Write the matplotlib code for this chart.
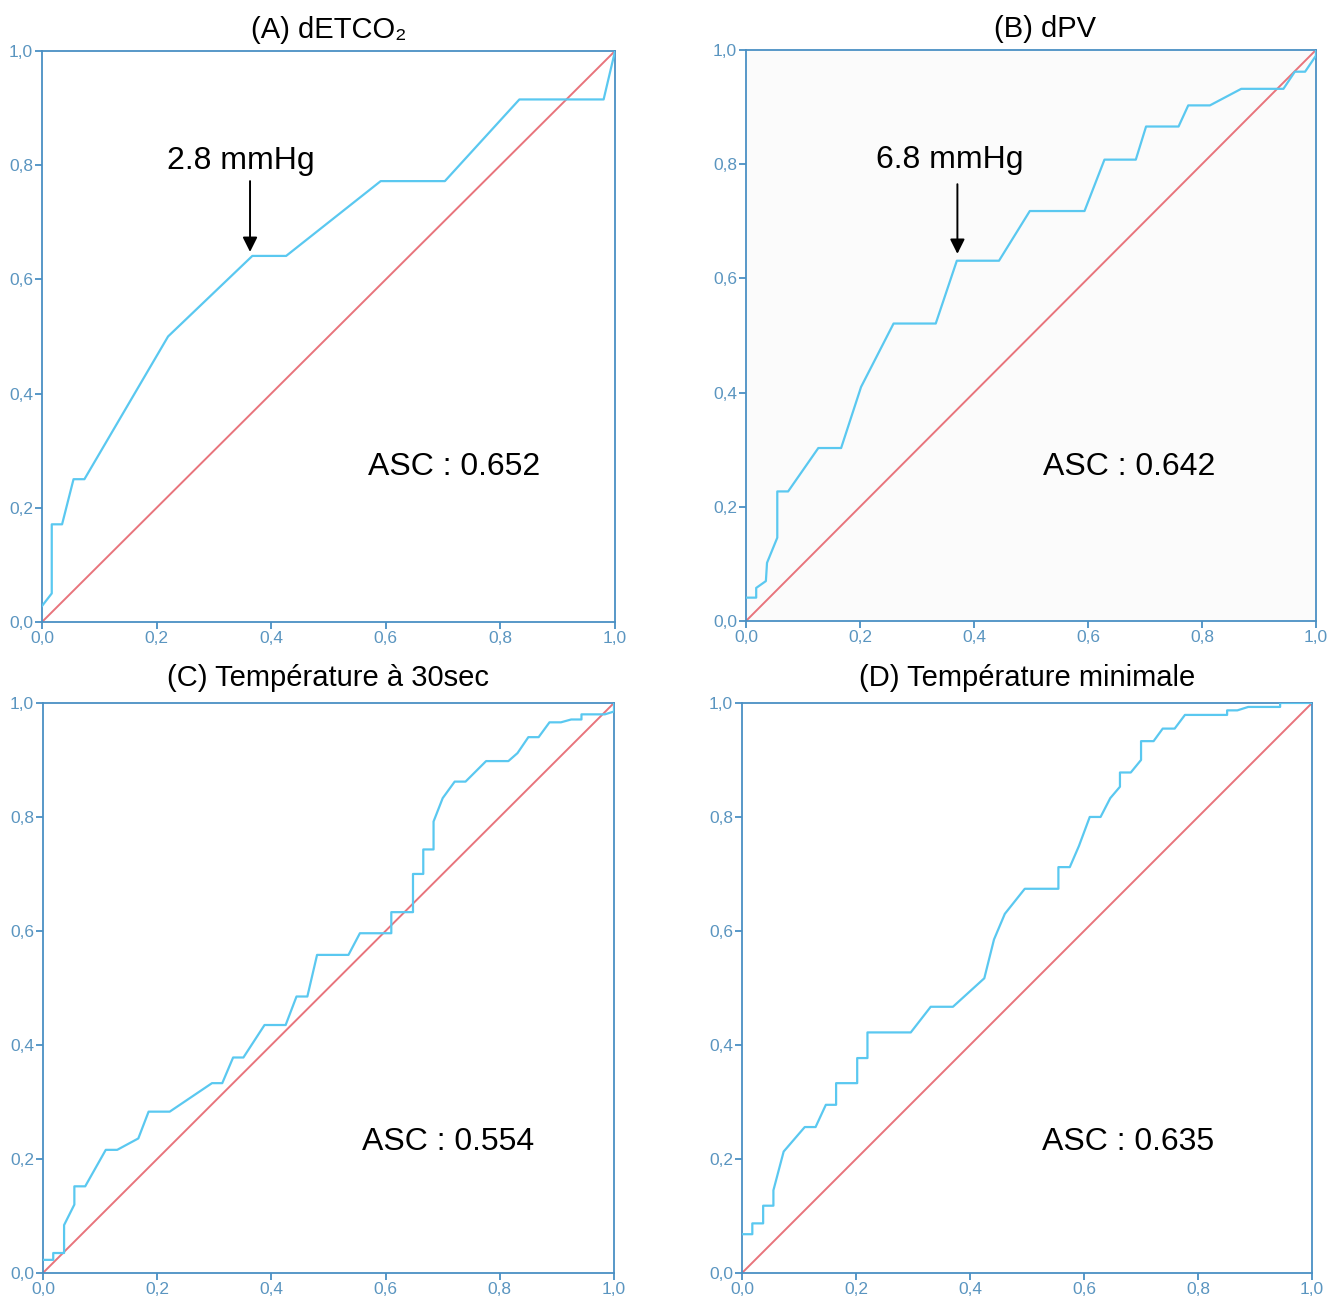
import numpy as np
import matplotlib
matplotlib.use("Agg")
import matplotlib.pyplot as plt
from matplotlib.ticker import FuncFormatter

plt.rcParams['font.family'] = ['Liberation Sans', 'DejaVu Sans']

# ROC curves (1 - specificity, sensitivity)
a_fpr = [0.0, 0.017, 0.017, 0.035, 0.055, 0.074, 0.22, 0.367, 0.426, 0.591, 0.703, 0.833, 0.98, 1.0]
a_tpr = [0.028, 0.05, 0.171, 0.171, 0.25, 0.25, 0.50, 0.641, 0.641, 0.772, 0.772, 0.915, 0.915, 1.0]

b_fpr = [0.0, 0.018, 0.018, 0.035, 0.037, 0.055, 0.055, 0.074, 0.127, 0.167, 0.202, 0.259, 0.333,
         0.37, 0.444, 0.498, 0.594, 0.629, 0.684, 0.702, 0.759, 0.776, 0.814, 0.869, 0.943, 0.963,
         0.981, 1.0, 1.0]
b_tpr = [0.041, 0.041, 0.058, 0.07, 0.102, 0.146, 0.227, 0.227, 0.303, 0.303, 0.41, 0.521, 0.521,
         0.631, 0.631, 0.718, 0.718, 0.808, 0.808, 0.866, 0.866, 0.903, 0.903, 0.932, 0.932, 0.962,
         0.962, 0.99, 1.0]

c_fpr = [0.0, 0.018, 0.018, 0.037, 0.037, 0.055, 0.055, 0.074, 0.11, 0.13, 0.167, 0.185, 0.222,
         0.296, 0.314, 0.333, 0.351, 0.388, 0.425, 0.444, 0.463, 0.48, 0.535, 0.555, 0.61, 0.61,
         0.648, 0.648, 0.666, 0.666, 0.684, 0.684, 0.70, 0.721, 0.74, 0.776, 0.815, 0.831, 0.85,
         0.868, 0.887, 0.907, 0.925, 0.943, 0.943, 0.984, 1.0, 1.0]
c_tpr = [0.023, 0.023, 0.035, 0.035, 0.084, 0.12, 0.152, 0.152, 0.216, 0.216, 0.236, 0.283, 0.283,
         0.333, 0.333, 0.378, 0.378, 0.435, 0.435, 0.485, 0.485, 0.558, 0.558, 0.596, 0.596, 0.633,
         0.633, 0.70, 0.70, 0.743, 0.743, 0.792, 0.833, 0.862, 0.862, 0.898, 0.898, 0.912, 0.94,
         0.94, 0.966, 0.966, 0.971, 0.971, 0.98, 0.98, 0.985, 1.0]

d_fpr = [0.0, 0.018, 0.018, 0.037, 0.037, 0.055, 0.055, 0.073, 0.11, 0.129, 0.147, 0.165, 0.165,
         0.202, 0.202, 0.22, 0.22, 0.296, 0.331, 0.37, 0.425, 0.442, 0.461, 0.496, 0.555, 0.555,
         0.575, 0.591, 0.61, 0.629, 0.646, 0.663, 0.663, 0.682, 0.70, 0.70, 0.722, 0.738, 0.759,
         0.777, 0.851, 0.851, 0.869, 0.888, 0.944, 0.944, 1.0]
d_tpr = [0.068, 0.068, 0.087, 0.087, 0.118, 0.118, 0.145, 0.213, 0.256, 0.256, 0.295, 0.295, 0.333,
         0.333, 0.377, 0.377, 0.422, 0.422, 0.467, 0.467, 0.517, 0.585, 0.63, 0.674, 0.674, 0.712,
         0.712, 0.749, 0.80, 0.80, 0.833, 0.853, 0.878, 0.878, 0.90, 0.933, 0.933, 0.955, 0.955,
         0.979, 0.979, 0.987, 0.987, 0.993, 0.993, 1.0, 1.0]

titles = ["(A) dETCO₂", "(B) dPV", "(C) Température à 30sec", "(D) Température minimale"]
title_x = [0.5, 0.525, 0.5, 0.5]
title_pad = [9, 9, 12.5, 12.5]
auc_labels = ["ASC : 0.652", "ASC : 0.642", "ASC : 0.554", "ASC : 0.635"]
auc_pos = [(0.719, 0.271), (0.672, 0.27), (0.709, 0.23), (0.677, 0.23)]
cutoff_labels = ["2.8 mmHg", "6.8 mmHg", None, None]
cutoff_text = [(0.347, 0.807), (0.358, 0.807), None, None]
arrow_x = [0.363, 0.371, None, None]
arrow_y = [(0.772, 0.648), (0.765, 0.643), None, None]

curves = [(a_fpr, a_tpr), (b_fpr, b_tpr), (c_fpr, c_tpr), (d_fpr, d_tpr)]
rects = [[0.0314, 0.5223, 0.4283, 0.4386],
         [0.5575, 0.5230, 0.4260, 0.4386],
         [0.0321, 0.0223, 0.4268, 0.4378],
         [0.5546, 0.0223, 0.4260, 0.4378]]

curve_col = '#5ac8f0'
diag_col = '#e8747c'
axis_col = '#4a90c4'

fig = plt.figure(figsize=(13.38, 13.02), dpi=100)
fmt = FuncFormatter(lambda v, p: ('%.1f' % v).replace('.', ','))

for i in range(4):
    ax = fig.add_axes(rects[i])
    if i == 1:
        ax.set_facecolor('#fbfbfb')
    ax.plot([0, 1], [0, 1], color=diag_col, lw=1.4, zorder=2)
    ax.plot(curves[i][0], curves[i][1], color=curve_col, lw=1.6, zorder=3)
    ax.set_xlim(0, 1)
    ax.set_ylim(0, 1)
    ax.set_xticks(np.arange(0, 1.01, 0.2))
    ax.set_yticks(np.arange(0, 1.01, 0.2))
    ax.xaxis.set_major_formatter(fmt)
    ax.yaxis.set_major_formatter(fmt)
    for s in ax.spines.values():
        s.set_color(axis_col)
        s.set_linewidth(1.3)
    ax.tick_params(colors=axis_col, labelcolor='#5a95c0', labelsize=12.5,
                   length=5, width=1.3, pad=1.5)
    ax.set_title(titles[i], fontsize=21, pad=title_pad[i], x=title_x[i])
    ax.text(auc_pos[i][0], auc_pos[i][1], auc_labels[i], fontsize=23,
            ha='center', va='center', transform=ax.transAxes)
    if cutoff_labels[i]:
        ax.text(cutoff_text[i][0], cutoff_text[i][1], cutoff_labels[i], fontsize=23,
                ha='center', va='center')
        ax.annotate('', xy=(arrow_x[i], arrow_y[i][1]), xytext=(arrow_x[i], arrow_y[i][0]),
                    arrowprops=dict(arrowstyle='-|>', color='black', lw=1.4,
                                    mutation_scale=22, shrinkA=0, shrinkB=0))

fig.savefig('out.png', dpi=100)
